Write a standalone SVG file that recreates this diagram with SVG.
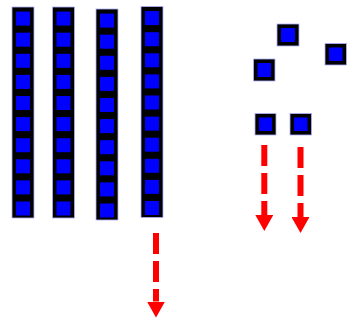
<svg xmlns="http://www.w3.org/2000/svg" width="347" height="321" viewBox="0 0 347 321">
<style>
.blk{fill:#000;stroke:#b0b0ff;stroke-width:0.8}
.blu{fill:#0000ff}
.arr{stroke:#ff0000;stroke-width:6;stroke-dasharray:21 7;fill:none}
</style>
<defs>
<marker id="ah" markerUnits="userSpaceOnUse" markerWidth="17" markerHeight="18" refX="0" refY="9" orient="auto" viewBox="0 0 17 18">
<path d="M0,0 L16,9 L0,18 z" fill="#ff0000"/>
</marker>
<g id="cells">
<rect class="blu" x="4" y="4.6" width="14" height="14"/>
<rect class="blu" x="4" y="25.7" width="14" height="14"/>
<rect class="blu" x="4" y="46.8" width="14" height="14"/>
<rect class="blu" x="4" y="67.9" width="14" height="14"/>
<rect class="blu" x="4" y="89.0" width="14" height="14"/>
<rect class="blu" x="4" y="110.1" width="14" height="14"/>
<rect class="blu" x="4" y="131.2" width="14" height="14"/>
<rect class="blu" x="4" y="152.3" width="14" height="14"/>
<rect class="blu" x="4" y="173.4" width="14" height="14"/>
<rect class="blu" x="4" y="194.5" width="14" height="14"/>
</g>
</defs>
<g id="column1">
<rect class="blk" x="12" y="7" width="22" height="211"/>
<use href="#cells" x="12" y="7"/>
</g>
<g id="column2">
<rect class="blk" x="52.5" y="7" width="22" height="211"/>
<use href="#cells" x="52.5" y="7"/>
</g>
<g id="column3">
<rect class="blk" x="96" y="9" width="22" height="211"/>
<use href="#cells" x="96" y="9"/>
</g>
<g id="column4">
<rect class="blk" x="141" y="6.5" width="22" height="211"/>
<use href="#cells" x="141" y="6.5"/>
</g>
<g id="square-top">
<rect class="blk" x="277" y="24" width="22" height="22"/>
<rect class="blu" x="281" y="28" width="14" height="14"/>
</g>
<g id="square-right">
<rect class="blk" x="325" y="43.5" width="21.5" height="21.5"/>
<rect class="blu" x="329" y="47.5" width="13.5" height="13.5"/>
</g>
<g id="square-left">
<rect class="blk" x="253.5" y="59" width="21.5" height="22"/>
<rect class="blu" x="257.5" y="63" width="13.5" height="14"/>
</g>
<g id="square-bottom-left">
<rect class="blk" x="255" y="113.5" width="21" height="21.5"/>
<rect class="blu" x="259" y="117.5" width="13" height="13.5"/>
</g>
<g id="square-bottom-right">
<rect class="blk" x="290" y="113.5" width="21.5" height="21.5"/>
<rect class="blu" x="294" y="117.5" width="13.5" height="13.5"/>
</g>
<g id="connectors">
<line class="arr" x1="264.3" y1="145" x2="264.3" y2="215" marker-end="url(#ah)"/>
<line class="arr" x1="300.5" y1="147" x2="300.5" y2="217" marker-end="url(#ah)"/>
<line class="arr" x1="156" y1="233" x2="156" y2="301.5" marker-end="url(#ah)"/>
</g>
</svg>
